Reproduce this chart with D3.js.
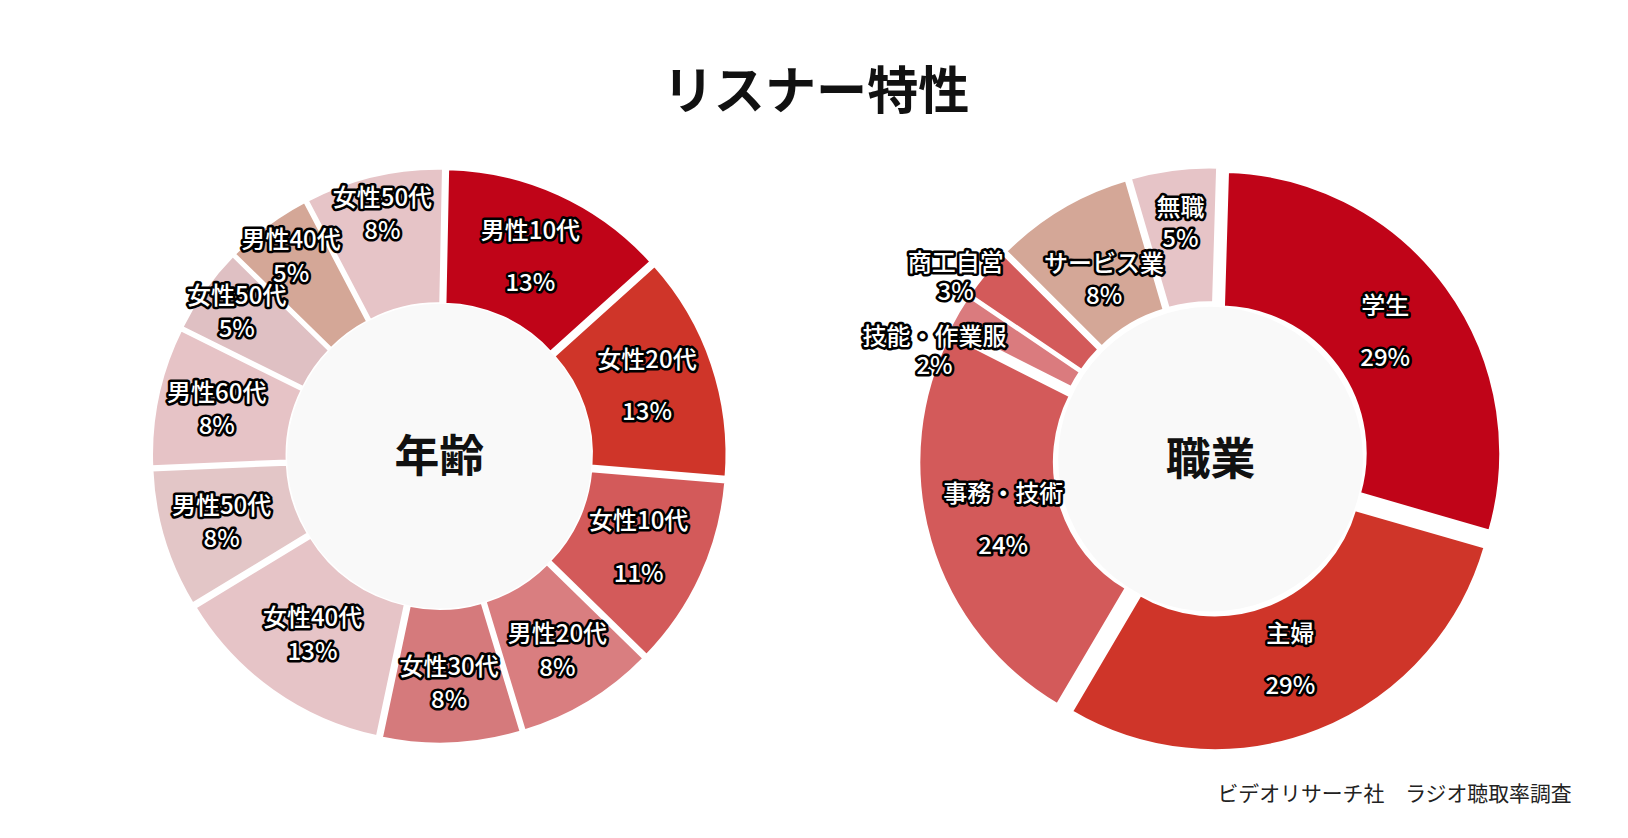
<!DOCTYPE html>
<html><head><meta charset="utf-8">
<script src="https://cdn.jsdelivr.net/npm/d3@7"></script>
<style>
body{margin:0;background:#fff;font-family:"Noto Sans CJK JP",sans-serif;}
</style></head>
<body><svg id="chart"></svg>
<script>
const ageLabels = ["男性10代","女性20代","女性10代","男性20代","女性30代","女性40代","男性50代","男性60代","女性50代","男性40代","女性50代"];
const ageValues = [13,13,11,8,8,13,8,8,5,5,8];
const ageColors = ["#c00418","#cf3529","#d35a5a","#d97e80","#d57a7c","#e6c4c7","#e3c6c7","#e6c3c6","#dfc0c3","#d4a797","#e6c4c7"];

const jobLabels = ["学生","主婦","事務・技術","技能・作業服","商工自営","サービス業","無職"];
const jobValues = [29,29,24,2,3,8,5];
const jobColors = ["#c00418","#cf3529","#d35a5a","#da7b7e","#d35a5a","#d4a797","#e6c4c7"];

const w = 1628, h = 838;
const svg = d3.select("#chart").attr("width", w).attr("height", h);
const root = svg.append("g").attr("transform", `scale(${w / 1560})`);

root.append("text").attr("x", 782).attr("y", 104).attr("text-anchor", "middle")
  .attr("font-size", 49).attr("font-weight", 700).attr("fill", "#111").text("リスナー特性");

root.append("text").attr("x", 1506).attr("y", 768).attr("text-anchor", "end")
  .attr("font-size", 20).attr("fill", "#222").text("ビデオリサーチ社　ラジオ聴取率調査");

function donut(cx, cy, labels, values, colors, title, offset, startAngle, place) {
  const g = root.append("g").attr("transform", `translate(${cx},${cy})`);
  const pie = d3.pie().sort(null).startAngle(startAngle).endAngle(startAngle + 2 * Math.PI);
  const arcs = pie(values);
  const arc = d3.arc().innerRadius(140).outerRadius(270);
  g.selectAll("path").data(arcs).enter().append("path")
    .attr("d", arc)
    .attr("fill", (d, i) => colors[i])
    .attr("transform", d => {
      const a = (d.startAngle + d.endAngle) / 2;
      return `translate(${offset * Math.sin(a)},${-offset * Math.cos(a)})`;
    })
    .attr("stroke", "#fff").attr("stroke-width", 3);
  g.append("circle").attr("r", 146).attr("fill", "#f9f9f9");
  g.append("text").attr("y", 15).attr("text-anchor", "middle")
    .attr("font-size", 43).attr("font-weight", 700).attr("fill", "#111").text(title);

  arcs.forEach((d, i) => {
    const v = values[i];
    const [r, shift, gap] = place(v, i);
    const a = (d.startAngle + d.endAngle) / 2 + shift;
    const x = r * Math.sin(a), y = -r * Math.cos(a);
    const t = g.append("g").attr("transform", `translate(${x},${y})`);
    [[labels[i], -gap / 2 + 8], [v + "%", gap / 2 + 8]].forEach(([s, dy]) => {
      t.append("text").attr("y", dy).attr("text-anchor", "middle")
        .attr("font-size", 23).attr("font-weight", 500)
        .attr("fill", "#fff").attr("stroke", "#000").attr("stroke-width", 5)
        .attr("stroke-linejoin", "round").attr("paint-order", "stroke").text(s);
    });
  });
}

donut(421, 437, ageLabels, ageValues, ageColors, "年齢", 6, 0.02,
  (v, i) => [v <= 8 ? (i >= 8 ? 238 : 218) : 210, 0, i < 3 ? 50 : 32]);
donut(1160, 440, jobLabels, jobValues, jobColors, "職業", 10, 0.03,
  (v, i) => v === 2 ? [284, -0.16, 28] : v === 3 ? [300, -0.07, 28]
    : v === 8 ? [200, 0, 30] : v === 5 ? [228, 0, 30] : [207, 0, 50]);
</script></body></html>
